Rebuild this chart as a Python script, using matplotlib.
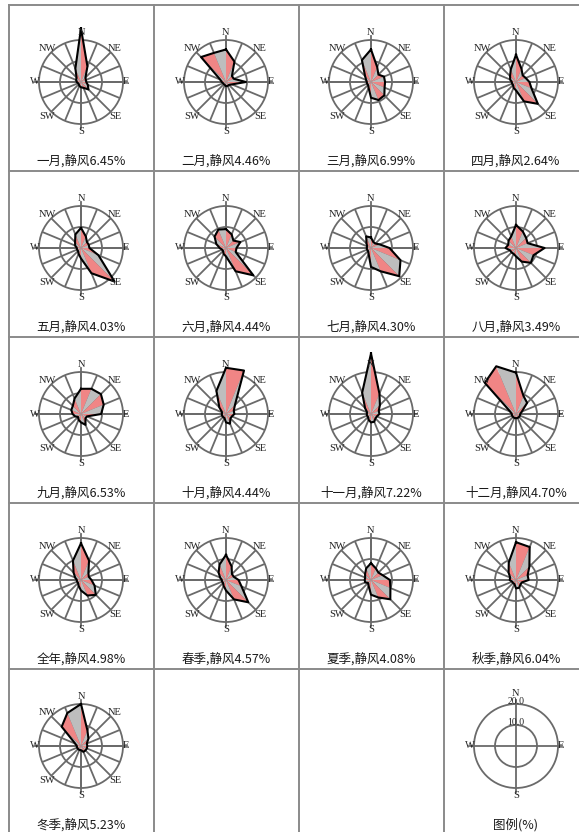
import numpy as np
import matplotlib
matplotlib.use("Agg")
import matplotlib.pyplot as plt
from matplotlib.lines import Line2D

plt.rcParams['font.family'] = ['Noto Sans CJK SC', 'DejaVu Sans']

# 16 compass sectors, clockwise from north
directions = ['N', 'NNE', 'NE', 'ENE', 'E', 'ESE', 'SE', 'SSE',
              'S', 'SSW', 'SW', 'WSW', 'W', 'WNW', 'NW', 'NNW']

periods = ['一月', '二月', '三月', '四月', '五月', '六月', '七月', '八月',
           '九月', '十月', '十一月', '十二月', '全年', '春季', '夏季', '秋季', '冬季']
calm_pct = [6.45, 4.46, 6.99, 2.64, 4.03, 4.44, 4.30, 3.49,
            6.53, 4.44, 7.22, 4.70, 4.98, 4.57, 4.08, 6.04, 5.23]

# wind direction frequency (%) per sector
freq_jan = [25.5, 8.0, 3.0, 2.5, 2.5, 3.5, 5.0, 3.0, 2.5, 2.0, 1.5, 1.5, 2.0, 2.5, 3.0, 7.0]
freq_feb = [15.5, 10.5, 4.0, 4.0, 9.5, 3.0, 2.0, 2.0, 2.0, 1.5, 1.5, 1.5, 2.0, 3.0, 16.8, 15.0]
freq_mar = [15.5, 7.7, 5.0, 6.7, 6.7, 7.0, 9.0, 9.3, 7.5, 3.0, 2.0, 2.0, 2.0, 2.5, 4.0, 11.3]
freq_apr = [13.0, 6.8, 4.5, 5.0, 6.4, 8.0, 14.7, 10.0, 4.0, 3.0, 2.0, 2.0, 2.0, 3.0, 4.0, 6.5]
freq_may = [9.6, 6.0, 4.0, 4.0, 4.0, 9.0, 22.6, 13.0, 5.0, 3.0, 2.0, 2.0, 2.0, 3.0, 4.0, 7.0]
freq_jun = [9.0, 7.0, 5.0, 7.4, 5.0, 5.0, 18.4, 12.0, 4.0, 3.0, 2.0, 2.0, 3.0, 5.0, 7.7, 9.5]
freq_jul = [5.0, 3.0, 3.0, 4.5, 8.8, 15.2, 19.0, 12.0, 9.0, 3.0, 2.0, 2.0, 2.0, 2.0, 3.0, 6.0]
freq_aug = [11.0, 8.5, 6.8, 6.0, 13.6, 9.0, 10.0, 7.0, 4.0, 3.0, 3.0, 3.0, 5.0, 4.0, 5.0, 6.0]
freq_sep = [12.0, 13.0, 13.4, 11.7, 9.6, 3.0, 3.0, 5.6, 4.0, 3.0, 2.0, 3.0, 4.0, 5.0, 5.5, 8.0]
freq_oct = [22.0, 22.4, 6.0, 4.0, 4.0, 3.0, 3.0, 5.0, 4.0, 2.0, 2.0, 2.0, 2.0, 2.0, 4.5, 11.9]
freq_nov = [28.8, 10.5, 6.0, 4.0, 4.0, 3.0, 3.0, 4.0, 4.0, 3.0, 2.0, 2.0, 2.0, 2.0, 4.0, 11.0]
freq_dec = [19.7, 9.3, 7.5, 3.0, 2.0, 2.0, 2.0, 2.0, 2.0, 2.0, 2.0, 2.0, 2.0, 3.0, 21.0, 24.6]
freq_year = [17.5, 10.0, 5.0, 4.0, 5.0, 7.0, 10.0, 8.0, 5.0, 3.0, 2.0, 2.0, 2.0, 3.0, 5.0, 10.0]
freq_spring = [12.0, 7.0, 4.0, 4.0, 6.0, 8.0, 15.0, 10.0, 5.0, 3.0, 2.0, 2.0, 2.0, 3.0, 5.0, 8.0]
freq_summer = [8.0, 6.0, 5.0, 6.0, 9.0, 10.0, 13.0, 9.0, 7.0, 3.0, 2.0, 3.0, 3.0, 3.0, 4.0, 6.0]
freq_autumn = [18.0, 17.0, 9.0, 6.0, 6.0, 3.0, 3.0, 4.0, 4.0, 2.0, 2.0, 2.0, 3.0, 3.0, 5.0, 9.0]
freq_winter = [20.0, 8.0, 5.0, 3.0, 3.0, 3.0, 3.0, 3.0, 2.0, 2.0, 2.0, 2.0, 2.0, 3.0, 13.0, 17.0]

all_freq = [freq_jan, freq_feb, freq_mar, freq_apr, freq_may, freq_jun,
            freq_jul, freq_aug, freq_sep, freq_oct, freq_nov, freq_dec,
            freq_year, freq_spring, freq_summer, freq_autumn, freq_winter]

ring_values = [10.0, 20.0]
legend_caption = '图例(%)'

W, H = 579, 832
fig = plt.figure(figsize=(W / 100, H / 100), dpi=100)
fig.patch.set_facecolor('white')

GRID = '#6a6a6a'
PINK = '#f08585'
GRAY = '#bdbdbd'
CELL_W, CELL_H = 145.0, 166.0
X0, Y0 = 8.5, 5.0
R_PX = 42.0


def fx(px):
    return px / W


def fy(py):
    return 1 - py / H


# cell frame lines
for c in range(5):
    x = X0 + c * CELL_W
    fig.add_artist(Line2D([fx(x), fx(x)], [fy(Y0), 0], color='#8a8a8a', lw=1.4))
for r in range(5):
    y = Y0 + r * CELL_H
    fig.add_artist(Line2D([fx(X0), 1], [fy(y), fy(y)], color='#8a8a8a', lw=1.4))

theta = np.deg2rad(np.arange(16) * 22.5)
label_dirs = {'N': (0, 23.4), 'NE': (45, 22.8), 'E': (90, 21.3), 'SE': (135, 23.0),
              'S': (180, 23.4), 'SW': (225, 23.0), 'W': (270, 21.8), 'NW': (315, 22.8)}


def make_polar(col, row):
    cx = X0 + col * CELL_W + CELL_W / 2
    cy = Y0 + row * CELL_H + 77
    ax = fig.add_axes([fx(cx - R_PX), fy(cy + R_PX), 2 * R_PX / W, 2 * R_PX / H],
                      projection='polar')
    ax.set_theta_zero_location('N')
    ax.set_theta_direction(-1)
    ax.set_ylim(0, 20)
    ax.patch.set_alpha(0)
    ax.spines['polar'].set_color(GRID)
    ax.spines['polar'].set_linewidth(1.3)
    return ax, cx, cy


def axis_cross(ax):
    # N-S and E-W axes run a little past the outer ring
    for ang in (0, 90, 180, 270):
        ax.plot([np.deg2rad(ang)] * 2, [0, 22.0], color=GRID, lw=1.3,
                clip_on=False, zorder=2)


for k, (name, calm, freq) in enumerate(zip(periods, calm_pct, all_freq)):
    col, row = k % 4, k // 4
    ax, cx, cy = make_polar(col, row)
    ax.set_xticks(theta)
    ax.set_xticklabels([])
    ax.set_yticks(ring_values[:1])
    ax.set_yticklabels([])
    ax.grid(True, color=GRID, lw=1.3)
    axis_cross(ax)
    vals = np.asarray(freq)
    for i in range(16):
        j = (i + 1) % 16
        ax.fill([0, theta[i], theta[j]], [0, vals[i], vals[j]],
                color=PINK if i % 2 == 0 else GRAY, lw=0, clip_on=False, zorder=3)
    ax.plot(np.append(theta, theta[0]), np.append(vals, vals[0]),
            color='black', lw=1.5, clip_on=False, zorder=4)
    for lab, (deg, rr) in label_dirs.items():
        ax.text(np.deg2rad(deg), rr, lab, ha='center', va='center', fontsize=7.5,
                family='Liberation Serif', color='#222222', clip_on=False, zorder=5)
    fig.text(fx(cx), fy(cy + 79), f'{name},静风{calm:.2f}%', ha='center',
             va='center', fontsize=9, color='#1a1a1a')

# legend cell
ax, cx, cy = make_polar(3, 4)
ax.set_xticks([])
ax.set_yticks(ring_values[:1])
ax.set_yticklabels([])
ax.grid(True, color=GRID, lw=1.3)
axis_cross(ax)
legend_dirs = {'N': (0, 25.0), 'E': (90, 21.3), 'S': (180, 23.4), 'W': (270, 21.8)}
for lab, (deg, rr) in legend_dirs.items():
    ax.text(np.deg2rad(deg), rr, lab, ha='center', va='center', fontsize=7.5,
            family='Liberation Serif', color='#222222', clip_on=False, zorder=5)
for rv in ring_values:
    ax.text(0, rv + 1.1, f'{rv:.1f}', ha='center', va='center', fontsize=7,
            family='Liberation Serif', color='#222222', clip_on=False, zorder=5)
fig.text(fx(cx), fy(cy + 79), legend_caption, ha='center', va='center',
         fontsize=9, color='#1a1a1a')

fig.savefig('out.png', dpi=100, facecolor='white')
